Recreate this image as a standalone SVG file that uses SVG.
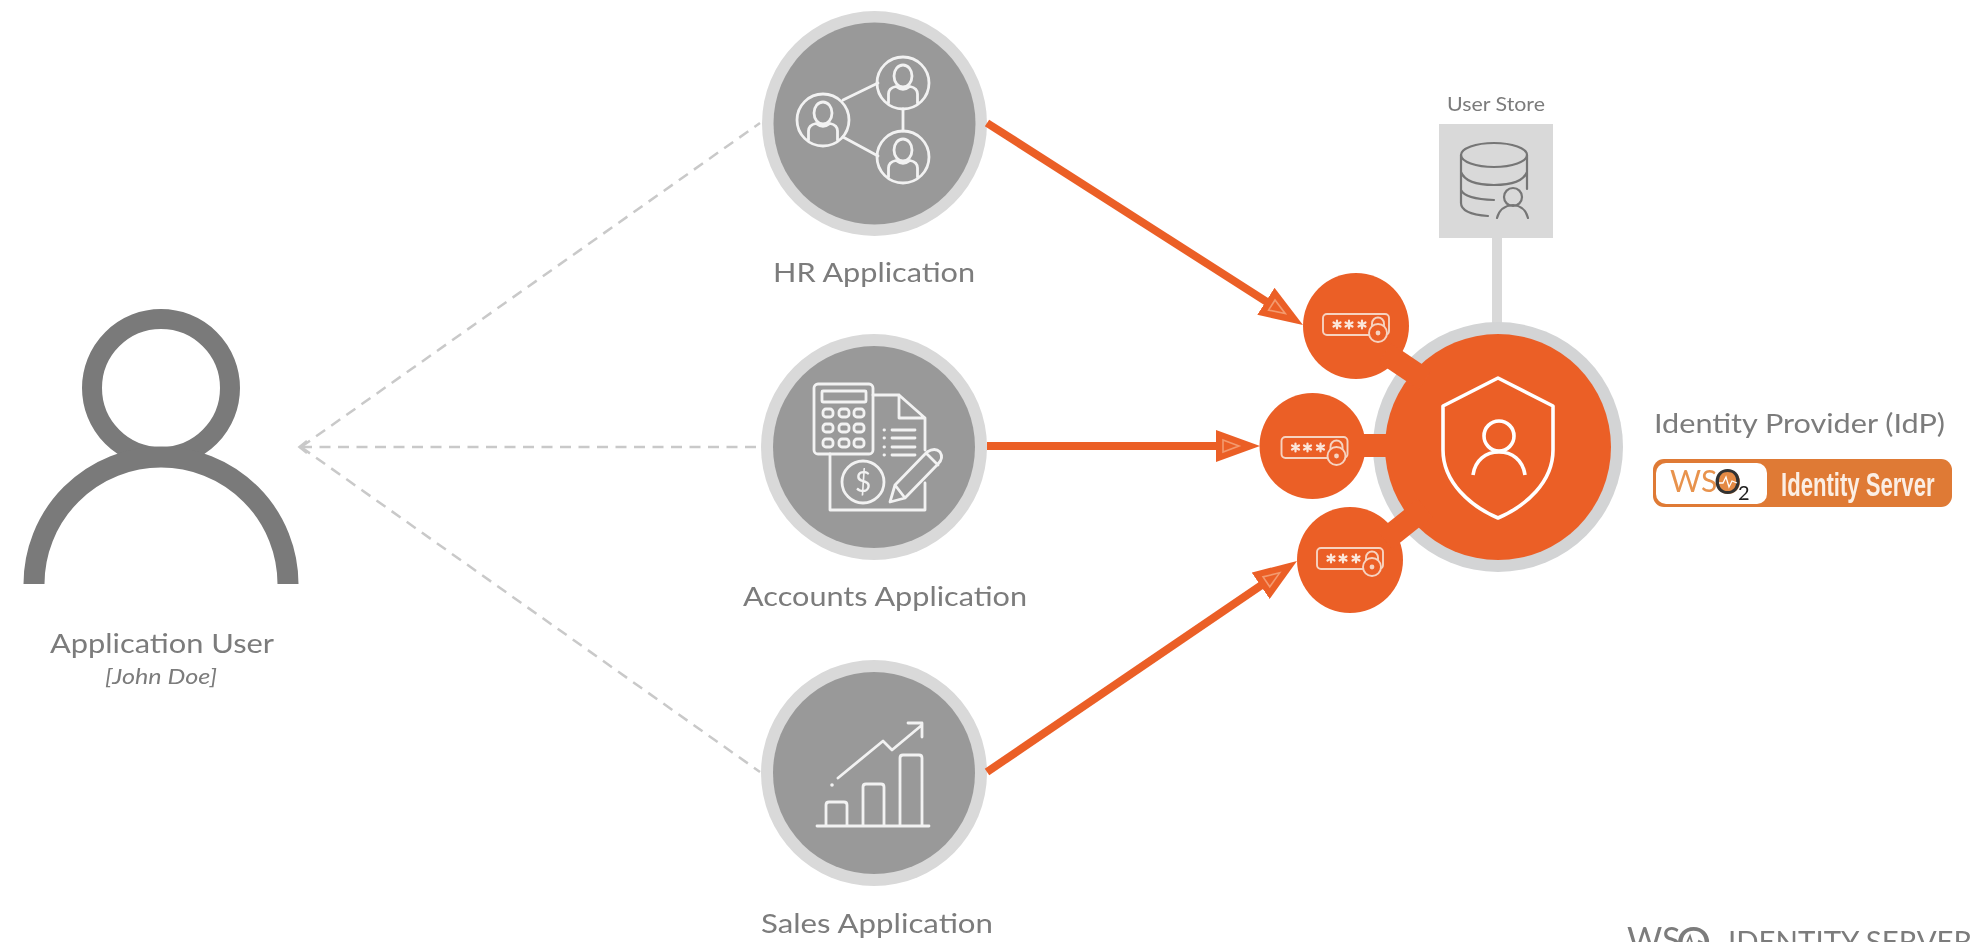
<svg xmlns="http://www.w3.org/2000/svg" width="1976" height="942" viewBox="0 0 1976 942">
<style>
text{font-family:"Lato","Noto Sans","Liberation Sans",sans-serif;fill:#7b7b7b}
.lbl{font-size:27.5px}
.ring{fill:#d9d9d9}
.app{fill:#999}
.ic{fill:none;stroke:#f2f2f2;stroke-width:2.8;stroke-linejoin:round;stroke-linecap:round}
.icw{fill:none;stroke:#fff;stroke-width:3.6;stroke-linejoin:round}
.or{fill:#eb5f28}
.key{fill:none;stroke:#f6d3c0;stroke-width:1.9}
.star{fill:none;stroke:#fbe6da;stroke-width:2.2;stroke-linecap:round}
.dash{fill:none;stroke:#c9c9c9;stroke-width:2.5;stroke-dasharray:11 7.5}
.flow{fill:none;stroke:#eb5f28;stroke-width:8}
.stub{fill:none;stroke:#eb5f28;stroke-width:23}
.db{fill:none;stroke:#767676;stroke-width:2.2;stroke-linecap:round}
svg>g{filter:url(#soft)}
</style>
<defs>
<filter id="soft" filterUnits="userSpaceOnUse" x="0" y="0" width="1976" height="942"><feGaussianBlur stdDeviation="0.6"/></filter>
<marker id="arrow" markerUnits="userSpaceOnUse" markerWidth="44" markerHeight="32" viewBox="0 0 44 32" refX="14" refY="16" orient="auto">
<path d="M0 0L44 16L0 32Z" fill="#eb5f28"/>
<path d="M7 10L23 16L7 22Z" fill="none" stroke="#f39a6e" stroke-width="1.6"/>
</marker>
<g id="peer">
<circle r="26" class="ic"/>
<ellipse cy="-7" rx="9" ry="11" class="ic"/>
<path d="M-14.5 20V11Q-14.5 5-7 3.5Q0 9 7 3.500Q14.5 5 14.5 11V20" class="ic"/>
</g>
<path id="ast" class="star" d="M0 -4V4M-3.500 -2L3.500 2M-3.500 2L3.500 -2"/>
<g id="key">
<rect x="-33" y="-10.5" width="66" height="21" rx="4" class="key"/>
<use href="#ast" x="-19" y="0"/>
<use href="#ast" x="-7" y="0"/>
<use href="#ast" x="6" y="0"/>
<path d="M16 3V-1A6 6 0 0 1 28 -1V3" class="key" style="fill:#eb5f28"/>
<circle cx="22" cy="8.500" r="9" class="key" style="fill:#eb5f28"/>
<circle cx="22" cy="8.500" r="2.400" fill="#f6d3c0"/>
</g>
</defs>
<rect width="1976" height="942" fill="#fff"/>

<g id="dashed-connectors">
<path class="dash" d="M301 447L760 123"/>
<path class="dash" d="M301 447H761"/>
<path class="dash" d="M301 447L760 772"/>
<path d="M307 441L299.500 447L307 453" fill="none" stroke="#c9c9c9" stroke-width="2.500"/>
</g>

<g id="application-user">
<circle cx="161" cy="388" r="69" fill="none" stroke="#7a7a7a" stroke-width="20"/>
<path d="M34 584A127 127 0 0 1 288 584" fill="none" stroke="#7a7a7a" stroke-width="21"/>
<text class="lbl" x="50" y="653" textLength="224" lengthAdjust="spacingAndGlyphs">Application User</text>
<text x="105" y="684" font-size="22" font-style="italic" textLength="112" lengthAdjust="spacingAndGlyphs">[John Doe]</text>
</g>

<g id="hr-application">
<circle class="ring" cx="874.500" cy="123.500" r="112.500"/>
<circle class="app" cx="874.500" cy="123.500" r="101"/>
<use href="#peer" x="823" y="120"/>
<use href="#peer" x="903" y="83"/>
<use href="#peer" x="903" y="157"/>
<path class="ic" d="M843 100L878 83M843 137L878 156M903 109V131"/>
<text class="lbl" x="773" y="282" textLength="202" lengthAdjust="spacingAndGlyphs">HR Application</text>
</g>

<g id="accounts-application">
<circle class="ring" cx="874" cy="447" r="113"/>
<circle class="app" cx="874" cy="447" r="101"/>
<rect class="ic" x="814" y="384" width="59" height="70" rx="4"/>
<rect class="ic" x="822" y="391" width="44" height="11" rx="1"/>
<g class="ic">
<rect x="823" y="409" width="10" height="8" rx="3"/><rect x="839" y="409" width="10" height="8" rx="3"/><rect x="854" y="409" width="10" height="8" rx="3"/>
<rect x="823" y="424" width="10" height="8" rx="3"/><rect x="839" y="424" width="10" height="8" rx="3"/><rect x="854" y="424" width="10" height="8" rx="3"/>
<rect x="823" y="439" width="10" height="8" rx="3"/><rect x="839" y="439" width="10" height="8" rx="3"/><rect x="854" y="439" width="10" height="8" rx="3"/>
</g>
<path class="ic" d="M873 395H899L925 418V450M925 483V510H830V454M899 395V418H925"/>
<path class="ic" d="M892 430H915M892 438H915M892 447H915M892 455H915M884 430H884.500M884 438H884.500M884 447H884.500M884 455H884.500"/>
<circle class="ic" cx="863" cy="482" r="21"/>
<text x="863" y="492" font-size="28" text-anchor="middle" style="fill:#f2f2f2">$</text>
<path class="ic" d="M890 502L895 485L927 452Q935 447 940 452Q944 458 938 464L905 498ZM895 485L905 498M926 453L938 465"/>
<text class="lbl" x="743" y="606" textLength="284" lengthAdjust="spacingAndGlyphs">Accounts Application</text>
</g>

<g id="sales-application">
<circle class="ring" cx="874" cy="773" r="113"/>
<circle class="app" cx="874" cy="773" r="101"/>
<path class="ic" d="M817 826H929M826 826V805Q826 802 829 802H844Q847 802 847 805V826M863 826V787Q863 784 866 784H881Q884 784 884 787V826M900 826V758Q900 755 903 755H919Q922 755 922 758V826"/>
<path class="ic" d="M838 778L883 741L892 750L922 725M908 723H922V737"/>
<circle cx="832" cy="785" r="1.800" fill="#f2f2f2"/>
<text class="lbl" x="761" y="933" textLength="232" lengthAdjust="spacingAndGlyphs">Sales Application</text>
</g>

<g id="user-store">
<text x="1447" y="111" font-size="20" textLength="98" lengthAdjust="spacingAndGlyphs">User Store</text>
<rect x="1439" y="124" width="114" height="114" fill="#d9d9d9"/>
<ellipse class="db" cx="1494" cy="155" rx="33" ry="12"/>
<path class="db" d="M1461 155V203Q1461 214 1488 216M1527 155V189M1461 172Q1466 185 1494 185Q1522 185 1527 172M1461 190Q1465 199 1494 200"/>
<circle class="db" cx="1513" cy="197" r="9"/>
<path class="db" d="M1497 218Q1500 206 1513 205Q1525 206 1528 218"/>
</g>

<g id="identity-provider">
<rect x="1492" y="238" width="10" height="90" fill="#d9d9d9"/>
<circle cx="1498" cy="447" r="125" fill="#d3d4d5"/>
<circle class="or" cx="1498" cy="447" r="113"/>
<path class="icw" d="M1498 378L1443 406V450C1443 482 1470 506 1498 518C1526 506 1553 482 1553 450V406Z"/>
<circle class="icw" cx="1499" cy="436" r="15"/>
<path class="icw" d="M1473 475C1475 460 1486 452 1499 452C1512 452 1523 460 1525 475"/>
<text x="1654" y="433" class="lbl" textLength="291" lengthAdjust="spacingAndGlyphs">Identity Provider (IdP)</text>
<rect x="1653" y="459" width="299" height="48" rx="11" fill="#df7a34"/>
<rect x="1656" y="463" width="111" height="41" rx="10" fill="#fff"/>
<circle cx="1728" cy="482" r="12" fill="#e48a45"/>
<text x="1670" y="492" font-size="30" style="fill:#e8934e">WS<tspan x="1714" y="494" font-size="34" style="fill:#333">O</tspan><tspan x="1738" y="500" font-size="20" style="fill:#222">2</tspan></text>
<path d="M1719 483H1723L1726 477L1729 487L1732 481L1737 483" fill="none" stroke="#fff" stroke-width="1.300"/>
<text transform="translate(1781 496) scale(.67 1)" x="0" y="0" font-size="33" font-weight="700" style="fill:#fbeee4;font-family:'Liberation Sans',sans-serif">Identity Server</text>
</g>

<g id="key-hr">
<circle class="or" cx="1356" cy="326" r="53"/>
<use href="#key" x="1356" y="324.500"/>
</g>
<g id="key-accounts">
<circle class="or" cx="1312.500" cy="446" r="53"/>
<use href="#key" x="1314.500" y="447.500"/>
</g>
<g id="key-sales">
<circle class="or" cx="1350" cy="560" r="53"/>
<use href="#key" x="1350" y="558.500"/>
</g>

<g id="connectors">
<path class="flow" d="M987 123L1277.700 308.800" marker-end="url(#arrow)"/>
<path class="flow" d="M987 446H1230" marker-end="url(#arrow)"/>
<path class="flow" d="M987 772L1272.200 577.900" marker-end="url(#arrow)"/>
<path class="stub" d="M1385 353L1425 380"/>
<path class="stub" d="M1360 445.500H1392"/>
<path class="stub" d="M1385 540L1425 508"/>
</g>

<g id="product-mark">
<text x="1627" y="952" font-size="34">WS<tspan x="1676" y="959" font-size="44">O</tspan></text>
<path d="M1680 945H1686L1690 936L1695 952L1699 941L1708 945" fill="none" stroke="#7b7b7b" stroke-width="1.800"/>
<text x="1728" y="952" font-size="28" textLength="244" lengthAdjust="spacingAndGlyphs">IDENTITY SERVER</text>
</g>
</svg>
